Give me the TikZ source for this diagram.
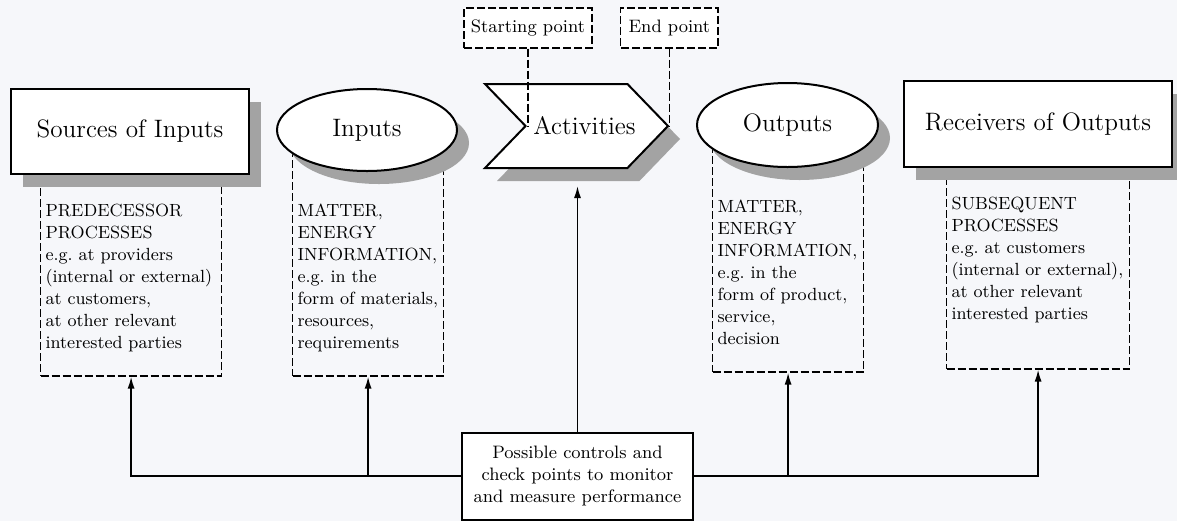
\documentclass[tikz,border=0pt]{standalone}
\usetikzlibrary{shapes.geometric,shapes.symbols,shadows,arrows.meta}

\definecolor{pagebg}{RGB}{246,247,250}
\frenchspacing

\begin{document}
\begin{tikzpicture}[
    x=0.5pt, y=-0.5pt,
    line width=1pt,
    dropshade/.style={
        drop shadow={shadow xshift=6pt, shadow yshift=-6.5pt,
                     fill=black!36, opacity=1},
    },
    stage/.style={
        draw,
        fill=white,
        dropshade,
        inner sep=0pt,
        font=\fontsize{12.6}{15}\selectfont,
    },
    stagebox/.style={stage, rectangle},
    stageoval/.style={stage, ellipse},
    infobox/.style={
        draw,
        line width=0.6pt,
        dash pattern=on 4pt off 1.5pt,
        inner xsep=2.5pt,
        inner ysep=0pt,
        align=left,
        text height=36pt,
        text depth=80pt,
        anchor=base west,
        font=\fontsize{8.8}{11}\selectfont,
    },
    ptbox/.style={
        draw,
        fill=white,
        line width=0.6pt,
        dash pattern=on 4pt off 1.5pt,
        inner sep=0pt,
        minimum height=20pt,
        font=\fontsize{9}{11}\selectfont,
    },
    tie/.style={line width=0.6pt, dash pattern=on 4pt off 1.5pt},
    feed/.style={line width=0.8pt, -{Latex[length=6pt,width=3.5pt]}},
]

\fill[pagebg] (0,0) rectangle (1177,521);
\useasboundingbox (0,0) rectangle (1177,521);

% dashed frames under the stages
\node[infobox, text width=85.5pt] (srcinfo) at (40,216)
    {PREDECESSOR\\PROCESSES\\e.g. at providers\\(internal or external)\\at customers,\\at other relevant\\interested parties};
\node[infobox, text width=70.5pt] (inpinfo) at (292,216)
    {MATTER,\\ENERGY\\INFORMATION,\\e.g. in the\\form of materials,\\resources,\\requirements};
\node[infobox, text width=70.5pt] (outinfo) at (712,212)
    {MATTER,\\ENERGY\\INFORMATION,\\e.g. in the\\form of product,\\service,\\decision};
\node[infobox, text width=86.5pt] (rcvinfo) at (946,209)
    {SUBSEQUENT\\PROCESSES\\e.g. at customers\\(internal or external),\\at other relevant\\interested parties};

% stages
\node[stagebox, minimum width=119pt, minimum height=42.5pt] (src) at (130,131.5) {Sources of Inputs};
\node[stageoval, minimum width=90pt, minimum height=41pt] (inp) at (367,130) {Inputs};
\node[stage, signal, signal from=west, signal to=east, signal pointer angle=92,
      minimum width=91.5pt, minimum height=42pt,
      label={[xshift=4pt, font=\fontsize{12.6}{15}\selectfont]center:Activities}] (act) at (576.5,126) {};
\node[stageoval, minimum width=90.5pt, minimum height=42pt] (out) at (787.5,125) {Outputs};
\node[stagebox, minimum width=134pt, minimum height=43pt] (rcv) at (1038,124) {Receivers of Outputs};

\node[ptbox, minimum width=64pt] (start) at (528,28) {Starting point};
\node[ptbox, minimum width=48.5pt] (finish) at (act.east |- start) {End point};

\draw[tie] (start.south) -- (start.south |- act.west);
\draw[tie] (finish.south) -- (act.east);

\node[draw, fill=white, align=center, minimum width=115.5pt, minimum height=43.5pt,
      font=\fontsize{9}{11}\selectfont] (ctrl) at (577.5,476)
    {Possible controls and\\check points to monitor\\and measure performance};

\draw[feed] (ctrl.west) -| (srcinfo.south);
\draw[feed] (ctrl.west) -| (inpinfo.south);
\draw[feed] (ctrl.east) -| (outinfo.south);
\draw[feed] (ctrl.east) -| (rcvinfo.south);
\draw[feed, shorten >=8.5pt] (ctrl.north) -- (ctrl.north |- act.south);

\end{tikzpicture}
\end{document}
